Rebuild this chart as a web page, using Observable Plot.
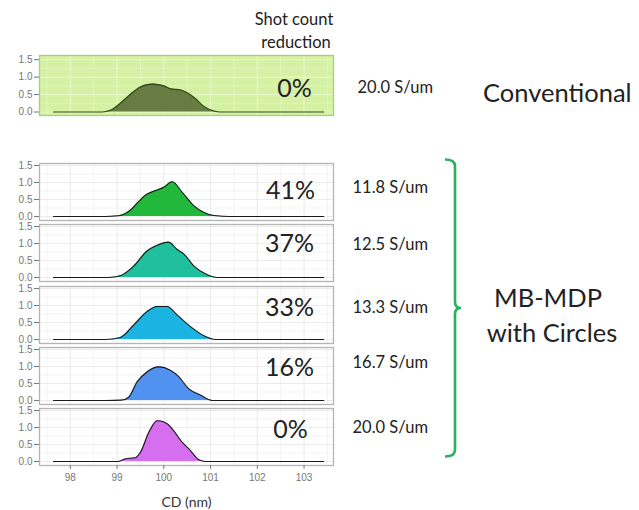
<!DOCTYPE html>
<html><head><meta charset="utf-8">
<script src="https://cdn.jsdelivr.net/npm/d3@7"></script>
<script src="https://cdn.jsdelivr.net/npm/@observablehq/plot@0.6"></script>
<style>
body{margin:0;background:#fff;}
#wrap{position:relative;width:639px;height:510px;overflow:hidden;}
#wrap svg{position:absolute;left:0;}
</style></head><body><div id="wrap"></div>
<script>
// ---- data ----
const shotReduction = ["0%", "41%", "37%", "33%", "16%", "0%"];
const sensitivity = ["20.0 S/um", "11.8 S/um", "12.5 S/um", "13.3 S/um", "16.7 S/um", "20.0 S/um"];
const xTicks = [98, 99, 100, 101, 102, 103];
const yTicks = [0, 0.5, 1.0, 1.5];

const cdConventional   = [97.64, 98.68, 98.86, 99.07, 99.28, 99.5, 99.75, 100.0, 100.14, 100.36, 100.5, 100.68, 100.85, 101.07, 101.21, 103.42];
const densConventional = [0, 0, 0.05, 0.25, 0.5, 0.72, 0.8, 0.75, 0.67, 0.63, 0.55, 0.38, 0.17, 0.03, 0, 0];

const cd41   = [97.64, 98.75, 99.03, 99.28, 99.45, 99.6, 99.78, 100.0, 100.18, 100.39, 100.64, 100.86, 101.07, 101.4, 103.42];
const dens41 = [0, 0, 0.02, 0.18, 0.42, 0.62, 0.74, 0.86, 1.02, 0.72, 0.32, 0.12, 0.03, 0, 0];

const cd37   = [97.64, 98.82, 99.07, 99.36, 99.64, 99.86, 100.1, 100.28, 100.43, 100.64, 100.93, 101.14, 103.42];
const dens37 = [0, 0, 0.05, 0.34, 0.78, 0.95, 1.04, 0.83, 0.69, 0.34, 0.08, 0, 0];

const cd33   = [97.64, 98.75, 99.07, 99.36, 99.64, 99.86, 100.07, 100.28, 100.57, 100.86, 101.1, 103.42];
const dens33 = [0, 0, 0.06, 0.43, 0.82, 0.97, 0.97, 0.73, 0.38, 0.11, 0, 0];

const cd16   = [97.64, 98.75, 99.1, 99.25, 99.43, 99.64, 99.89, 100.14, 100.32, 100.53, 100.78, 101.03, 103.42];
const dens16 = [0, 0, 0.01, 0.1, 0.55, 0.84, 0.99, 0.89, 0.70, 0.35, 0.16, 0, 0];

const cd0   = [97.64, 99.03, 99.18, 99.39, 99.5, 99.68, 99.86, 99.93, 100.07, 100.21, 100.36, 100.57, 100.75, 100.89, 103.42];
const dens0 = [0, 0, 0.08, 0.11, 0.27, 0.86, 1.2, 1.19, 1.11, 0.91, 0.62, 0.32, 0.05, 0, 0];

const seriesCD   = [cdConventional, cd41, cd37, cd33, cd16, cd0];
const seriesDens = [densConventional, dens41, dens37, dens33, dens16, dens0];

// ---- style / layout ----
const fills   = ["#677b42", "#22b83c", "#20bf9d", "#1bb3e2", "#5191ef", "#d56ff0"];
const strokes = ["#2e4a12", "#1a1a1a", "#1a1a1a", "#1a1a1a", "#1a1a1a", "#1a1a1a"];
const layout = [
  {top: 55,    h: 60, yd: [-0.1, 1.62],    bg: "#d5f1a3", grid: "#e7f8cb", frame: "#a9cf78", pdx: -39, pdy: 33,   sdx: 24, sdy: 32},
  {top: 163,   h: 57, yd: [-0.118, 1.559], bg: "#ffffff", grid: "#ebebeb", frame: "#b4b4b4", pdx: -43, pdy: 27,   sdx: 19, sdy: 24},
  {top: 224.3, h: 57, yd: [-0.118, 1.559], bg: "#ffffff", grid: "#ebebeb", frame: "#b4b4b4", pdx: -44, pdy: 19.7, sdx: 19, sdy: 20.7},
  {top: 285.6, h: 57, yd: [-0.118, 1.559], bg: "#ffffff", grid: "#ebebeb", frame: "#b4b4b4", pdx: -44, pdy: 21.4, sdx: 19, sdy: 21.4},
  {top: 347,   h: 57, yd: [-0.118, 1.559], bg: "#ffffff", grid: "#ebebeb", frame: "#b4b4b4", pdx: -44, pdy: 20,   sdx: 19, sdy: 15},
  {top: 408.3, h: 57, yd: [-0.118, 1.559], bg: "#ffffff", grid: "#ebebeb", frame: "#b4b4b4", pdx: -43, pdy: 21.7, sdx: 19, sdy: 19.7}
];
const xMinor = [97.5, 98.5, 99.5, 100.5, 101.5, 102.5, 103.5];
const yMinor = [0.25, 0.75, 1.25];
const textFont = "Lato, 'Open Sans', sans-serif";
const tickFont = "'Liberation Sans', Arial, sans-serif";

const wrap = document.getElementById("wrap");

layout.forEach((L, i) => {
  const data = seriesCD[i].map((x, k) => ({x, y: seriesDens[i][k]}));
  const last = i === layout.length - 1;
  const marks = [
    Plot.frame({fill: L.bg, stroke: null}),
    Plot.gridX(xMinor, {stroke: L.grid, strokeOpacity: 1, strokeWidth: 0.6}),
    Plot.gridY(yMinor, {stroke: L.grid, strokeOpacity: 1, strokeWidth: 0.6}),
    Plot.gridX(xTicks, {stroke: L.grid, strokeOpacity: 1, strokeWidth: 1.1}),
    Plot.gridY(yTicks, {stroke: L.grid, strokeOpacity: 1, strokeWidth: 1.1}),
    Plot.areaY(data, {x: "x", y: "y", fill: fills[i], curve: "monotone-x"}),
    Plot.line(data, {x: "x", y: "y", stroke: strokes[i], strokeWidth: 1.1, curve: "monotone-x"}),
    Plot.frame({stroke: L.frame, strokeWidth: 1.3}),
    Plot.axisY(yTicks, {tickFormat: d3.format(".1f"), tickSize: 5, tickPadding: 2, fontSize: 10, fill: "#777", stroke: "#777", fontFamily: tickFont, label: null}),
    Plot.text([shotReduction[i]], {text: d => d, frameAnchor: "top-right", dx: L.pdx, dy: L.pdy, textAnchor: "middle", lineAnchor: "middle", fontSize: 25, fontFamily: textFont, fill: "#222"}),
    Plot.text([sensitivity[i]], {text: d => d, frameAnchor: "top-right", dx: L.sdx, dy: L.sdy, textAnchor: "start", lineAnchor: "middle", fontSize: 16.5, fontFamily: textFont, fill: "#222"})
  ];
  if (last) {
    marks.push(Plot.axisX(xTicks, {tickSize: 4, tickPadding: 4, fontSize: 10, fill: "#777", stroke: "#777", fontFamily: tickFont, label: null}));
    marks.push(Plot.text(["CD (nm)"], {text: d => d, frameAnchor: "bottom", dy: 37, lineAnchor: "middle", fontSize: 14, fontFamily: textFont, fill: "#333"}));
  }
  const svg = Plot.plot({
    width: 639,
    height: L.h + (last ? 45 : 0),
    marginLeft: 39, marginRight: 306, marginTop: 0, marginBottom: last ? 45 : 0,
    x: {domain: [97.34, 103.63], axis: null},
    y: {domain: L.yd, axis: null},
    style: {background: "transparent", overflow: "visible", fontFamily: tickFont},
    marks
  });
  svg.style.top = L.top + "px";
  wrap.appendChild(svg);
});

// ---- annotations (bracket and group labels) ----
const ns = "http://www.w3.org/2000/svg";
const ann = document.createElementNS(ns, "svg");
ann.setAttribute("width", 639); ann.setAttribute("height", 510);
ann.style.top = "0px";
ann.innerHTML = `
  <g font-family="${textFont}" fill="#222">
    <text x="294" y="19" font-size="16.5" text-anchor="middle" dominant-baseline="central">Shot count</text>
    <text x="296" y="42" font-size="16.5" text-anchor="middle" dominant-baseline="central">reduction</text>
    <text x="483" y="92" font-size="25.5" dominant-baseline="central">Conventional</text>
    <text x="548" y="297" font-size="25.5" text-anchor="middle" dominant-baseline="central">MB-MDP</text>
    <text x="552" y="332" font-size="25.5" text-anchor="middle" dominant-baseline="central">with Circles</text>
  </g>
  <path d="M445,159.5 Q455,159.5 455,166 L455,302 Q455,308 461,308 Q455,308 455,314 L455,450 Q455,456.5 445,456.5" fill="none" stroke="#2bb060" stroke-width="2.6"/>
`;
wrap.appendChild(ann);
</script>
</body></html>
